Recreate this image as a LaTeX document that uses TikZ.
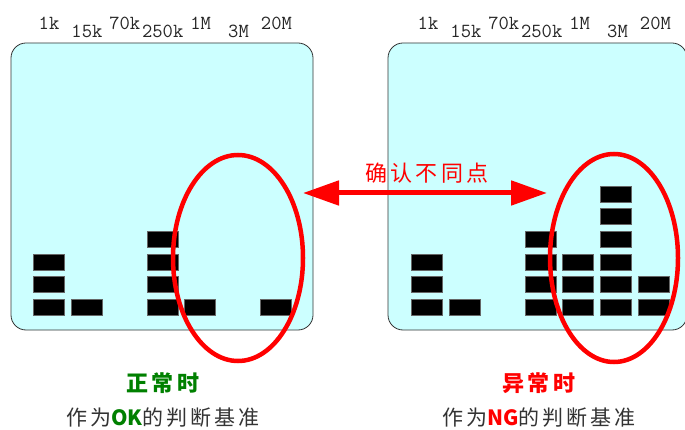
\documentclass[tikz,border=0pt]{standalone}
\usepackage{fontspec}
\usetikzlibrary{shapes.geometric,arrows.meta}
\newfontfamily\cjk{Noto Sans CJK SC}
\newfontfamily\cjksp{Noto Sans CJK SC}[LetterSpace=14]
\definecolor{panelfill}{HTML}{CCFFFF}
\definecolor{okgreen}{HTML}{008000}
\definecolor{darktext}{HTML}{333333}
\tikzset{
  panel/.style={draw=black!80, line width=0.8pt, fill=panelfill, rounded corners=15pt},
  bar/.style={fill=black, draw=black!60, line width=0.4pt},
  ring/.style={ellipse, draw=red, line width=4.5pt, inner sep=0pt},
  freq/.style={font=\ttfamily\fontsize{20}{22}\selectfont, inner sep=0pt, text=black!85},
  bigarrow/.style={draw=red, line width=5pt, {Triangle[length=36pt,width=24pt]}-{Triangle[length=36pt,width=24pt]}},
  title/.style={font=\cjksp\bfseries\fontsize{22}{24}\selectfont, inner sep=0pt},
  desc/.style={font=\cjksp\fontsize{21}{24}\selectfont, inner sep=0pt, text=darktext},
}
\begin{document}
\begin{tikzpicture}[x=1pt,y=-1pt]
\useasboundingbox (0,0) rectangle (685,430);
% panels
\path[panel] (11,43) rectangle (313,330);
\path[panel] (388,43) rectangle (687,330);
% bars left
\foreach \c/\h in {0/3,1/1,3/4,4/1,6/1}{
  \foreach \j in {1,...,\h}{
    \path[bar] ({33+37.9*\c},{299-22.6*(\j-1)}) rectangle ++(31,16);
  }
}
% bars right
\foreach \c/\h in {0/3,1/1,3/4,4/3,5/6,6/2}{
  \foreach \j in {1,...,\h}{
    \path[bar] ({411+37.9*\c},{299-22.6*(\j-1)}) rectangle ++(31,16);
  }
}
% frequency labels
\foreach \t/\k/\yy in {1k/0/23,15k/1/31,70k/2/23,250k/3/31,1M/4/23,3M/5/31,20M/6/23}{
  \node[freq] (fl\k) at ({49+37.9*\k},\yy) {\t};
  \node[freq] (fr\k) at ({428+37.9*\k},\yy) {\t};
}
% ellipses
\node[ring, minimum width=130pt, minimum height=206pt] (le) at (238,258) {};
\node[ring, minimum width=128pt, minimum height=208pt] (re) at (614,258) {};
% arrow
\coordinate (aL) at (303,193);
\coordinate (aR) at (547,193);
\draw[bigarrow] (aL) -- (aR);
\node[font=\cjksp\fontsize{22}{24}\selectfont, text=red, inner sep=0pt] (diff) at (427,173) {确认不同点};
% bottom texts
\node[title, text=okgreen] (okt) at (163,383) {正常时};
\node[desc] (okd) at (163,418) {作为{\color{okgreen}\cjk\bfseries OK}的判断基准};
\node[title, text=red] (ngt) at (539,383) {异常时};
\node[desc] (ngd) at (539,418) {作为{\color{red}\cjk\bfseries NG}的判断基准};
\end{tikzpicture}
\end{document}
